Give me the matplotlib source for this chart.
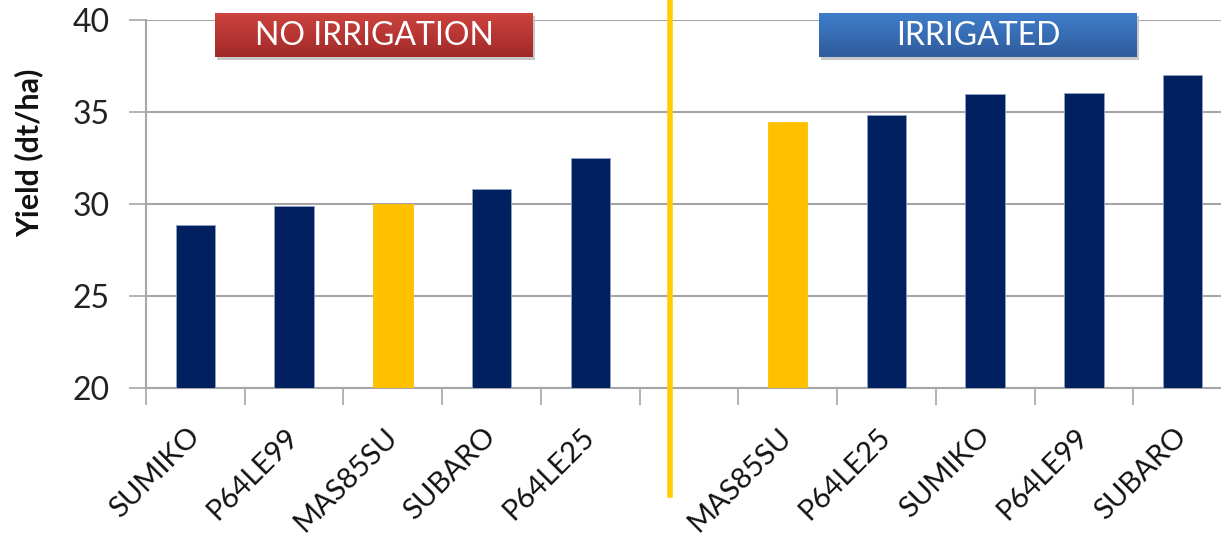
import numpy as np
import matplotlib
matplotlib.use('Agg')
import matplotlib.pyplot as plt
from matplotlib.colors import LinearSegmentedColormap

plt.rcParams['font.family'] = ['Lato', 'DejaVu Sans']

# yield per variety
left_varieties = ['SUMIKO', 'P64LE99', 'MAS85SU', 'SUBARO', 'P64LE25']
left_yield = [28.85, 29.9, 30.0, 30.8, 32.5]
right_varieties = ['MAS85SU', 'P64LE25', 'SUMIKO', 'P64LE99', 'SUBARO']
right_yield = [34.45, 34.85, 36.0, 36.05, 37.0]
highlight = 'MAS85SU'

yticks = [20, 25, 30, 35, 40]

navy = '#002060'
gold = '#FFC000'
grid_col = '#A6A6A6'

# one empty slot between the two groups
x_left = np.arange(len(left_varieties))
x_right = np.arange(len(right_varieties)) + len(left_varieties) + 1
xs = np.concatenate([x_left, x_right])
names = left_varieties + right_varieties
vals = left_yield + right_yield
cols = [gold if n == highlight else navy for n in names]
edges = [gold if n == highlight else '#8FA3C8' for n in names]

fig = plt.figure(figsize=(12.21, 5.39), dpi=100)
ax = fig.add_axes([0.1196, 0.2801, 0.8894, 0.6828])

ax.bar(xs, vals, width=0.4, color=cols, edgecolor=edges, linewidth=0.6, zorder=3)

ax.set_xlim(-0.5, xs[-1] + 0.5)
ax.set_ylim(20, 40)
ax.set_yticks(yticks)
ax.grid(axis='y', color=grid_col, linewidth=1.5, zorder=0)
ax.tick_params(axis='y', length=12, width=1.2, color=grid_col, pad=14, labelsize=23, labelcolor='#222222')

ax.set_xticks(xs)
ax.set_xticklabels(names)
ax.tick_params(axis='x', which='major', length=0, pad=32, labelsize=21, labelcolor='#111111')
ax.set_xticks(np.arange(-0.5, xs[-1] + 0.5, 1.0), minor=True)
ax.tick_params(axis='x', which='minor', length=12, width=1.2, color=grid_col)
for lbl in ax.get_xticklabels():
    lbl.set_rotation(45)
    lbl.set_ha('right')
    lbl.set_va('center')
    lbl.set_rotation_mode('anchor')

for side in ['top', 'right']:
    ax.spines[side].set_visible(False)
ax.spines['left'].set_color(grid_col)
ax.spines['bottom'].set_color(grid_col)
ax.spines['left'].set_linewidth(1.5)
ax.spines['bottom'].set_linewidth(1.5)

# divider between the two groups
ax.axvline(4.81, ymin=-0.29, ymax=1.06, color='#FFCC00', linewidth=4, clip_on=False, zorder=5)

fig.text(0.024, 0.716, 'Yield (dt/ha)', rotation=90, ha='center', va='center',
         fontsize=22, fontweight='bold', color='#111111')


def banner(left, label, top_col, bot_col):
    # shadow then gradient box
    sh = fig.add_axes([left + 0.002, 0.8942 - 0.005, 0.2604, 0.0816])
    sh.set_facecolor('#C8C8C8')
    sh.set_xticks([])
    sh.set_yticks([])
    for s in sh.spines.values():
        s.set_visible(False)
    b = fig.add_axes([left, 0.8942, 0.2604, 0.0816])
    cmap = LinearSegmentedColormap.from_list('g', [bot_col, top_col])
    b.imshow(np.linspace(0, 1, 50).reshape(-1, 1), aspect='auto', cmap=cmap,
             origin='lower', extent=[0, 1, 0, 1])
    b.set_xticks([])
    b.set_yticks([])
    for s in b.spines.values():
        s.set_visible(False)
    b.text(0.5, 0.47, label, ha='center', va='center', color='white', fontsize=23,
           transform=b.transAxes)


banner(0.1761, 'NO IRRIGATION', '#CC433D', '#A2292A')
banner(0.6708, 'IRRIGATED', '#3F7DCA', '#2F5C9C')

fig.savefig('out.png', dpi=100)
